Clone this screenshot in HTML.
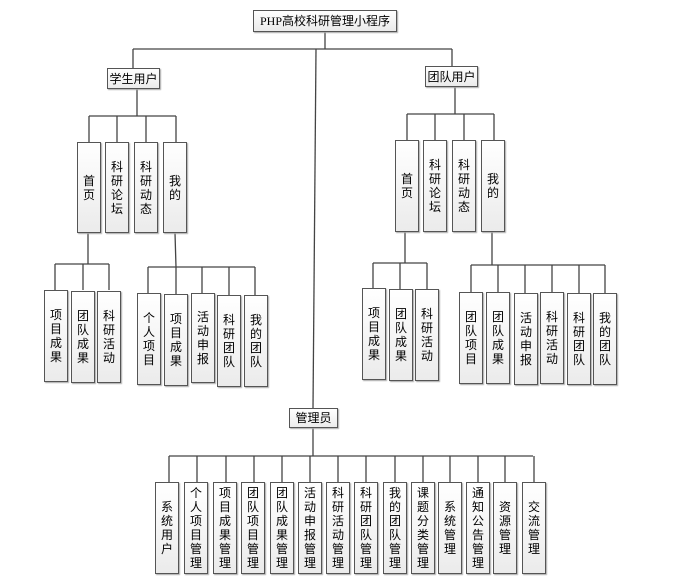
<!DOCTYPE html>
<html><head><meta charset="utf-8">
<style>
body{margin:0;width:691px;height:583px;background:#fff;position:relative;overflow:hidden;font-family:"Liberation Sans","Noto Sans CJK SC",sans-serif;}
svg{position:absolute;left:0;top:0}
.b{position:absolute;box-sizing:border-box;border:1.5px solid #555;background:linear-gradient(#fff,#ebebeb);box-shadow:1px 1px 1px #aaa;display:flex;align-items:center;justify-content:center;text-align:center;font-size:12px;color:#000;line-height:14px;}
.v{width:24px;}
</style></head><body>
<svg width="691" height="583">
<g stroke="#444" stroke-width="1.3" fill="none">
<path d="M325 31V49M133 49H452M133 49V68M452 49V66"/>
<path d="M316 49L313 408"/>
<path d="M137 88V116M89 116H176M89 116V142M117 116V142M146 116V142M176 116V142"/>
<path d="M88 233V264M55 264H109M55 264V290M83 264V290M109 264V290"/>
<path d="M175 233L176 267M148 267H255M148 267V293M176 267V294M202 267V293M229 267V295M255 267V295"/>
<path d="M455 87V114M407 114H494M407 114V140M435 114V140M464 114V140M494 114V140"/>
<path d="M405 232V263M373 263H427M373 263V288M400 263V289M427 263V289"/>
<path d="M492 232V265M471 265H605M471 265V292M498 265V292M525 265V293M552 265V292M579 265V293M605 265V293"/>
<path d="M313 428V456M169 456H533"/>
<path d="M169 456V482M197 456V482M226 456V482M254 456V482M282 456V482M310 456V482M338 456V482M366 456V482M395 456V482M423 456V482M450 456V482M478 456V482M505 456V482M534 456V482"/>
</g></svg>
<div class="b" style="left:253px;top:10px;width:144px;height:22px;font-family:'Liberation Serif','Noto Sans CJK SC',serif;font-size:12px">PHP高校科研管理小程序</div>
<div class="b" style="left:107px;top:68px;width:53px;height:21px">学生用户</div>
<div class="b" style="left:425px;top:66px;width:53px;height:21px">团队用户</div>
<div class="b" style="left:289px;top:408px;width:49px;height:20px">管理员</div>

<div class="b v" style="left:77px;top:142px;height:91px">首<br>页</div>
<div class="b v" style="left:105px;top:142px;height:91px">科<br>研<br>论<br>坛</div>
<div class="b v" style="left:134px;top:142px;height:91px">科<br>研<br>动<br>态</div>
<div class="b v" style="left:163px;top:142px;height:91px">我<br>的</div>

<div class="b v" style="left:395px;top:140px;height:92px">首<br>页</div>
<div class="b v" style="left:423px;top:140px;height:92px">科<br>研<br>论<br>坛</div>
<div class="b v" style="left:452px;top:140px;height:92px">科<br>研<br>动<br>态</div>
<div class="b v" style="left:481px;top:140px;height:92px">我<br>的</div>

<div class="b v" style="left:44px;top:290px;height:92px">项<br>目<br>成<br>果</div>
<div class="b v" style="left:71px;top:291px;height:92px">团<br>队<br>成<br>果</div>
<div class="b v" style="left:97px;top:291px;height:92px">科<br>研<br>活<br>动</div>

<div class="b v" style="left:137px;top:293px;height:92px">个<br>人<br>项<br>目</div>
<div class="b v" style="left:164px;top:294px;height:92px">项<br>目<br>成<br>果</div>
<div class="b v" style="left:191px;top:293px;height:90px">活<br>动<br>申<br>报</div>
<div class="b v" style="left:217px;top:295px;height:92px">科<br>研<br>团<br>队</div>
<div class="b v" style="left:244px;top:295px;height:92px">我<br>的<br>团<br>队</div>

<div class="b v" style="left:362px;top:288px;height:92px">项<br>目<br>成<br>果</div>
<div class="b v" style="left:389px;top:289px;height:92px">团<br>队<br>成<br>果</div>
<div class="b v" style="left:415px;top:289px;height:92px">科<br>研<br>活<br>动</div>

<div class="b v" style="left:459px;top:292px;height:92px">团<br>队<br>项<br>目</div>
<div class="b v" style="left:486px;top:292px;height:92px">团<br>队<br>成<br>果</div>
<div class="b v" style="left:514px;top:293px;height:92px">活<br>动<br>申<br>报</div>
<div class="b v" style="left:540px;top:292px;height:92px">科<br>研<br>活<br>动</div>
<div class="b v" style="left:567px;top:293px;height:92px">科<br>研<br>团<br>队</div>
<div class="b v" style="left:593px;top:293px;height:92px">我<br>的<br>团<br>队</div>

<div class="b v" style="left:155px;top:482px;height:92px">系<br>统<br>用<br>户</div>
<div class="b v" style="left:184px;top:482px;height:92px">个<br>人<br>项<br>目<br>管<br>理</div>
<div class="b v" style="left:213px;top:482px;height:92px">项<br>目<br>成<br>果<br>管<br>理</div>
<div class="b v" style="left:241px;top:482px;height:92px">团<br>队<br>项<br>目<br>管<br>理</div>
<div class="b v" style="left:270px;top:482px;height:92px">团<br>队<br>成<br>果<br>管<br>理</div>
<div class="b v" style="left:298px;top:482px;height:92px">活<br>动<br>申<br>报<br>管<br>理</div>
<div class="b v" style="left:326px;top:482px;height:92px">科<br>研<br>活<br>动<br>管<br>理</div>
<div class="b v" style="left:354px;top:482px;height:92px">科<br>研<br>团<br>队<br>管<br>理</div>
<div class="b v" style="left:383px;top:482px;height:92px">我<br>的<br>团<br>队<br>管<br>理</div>
<div class="b v" style="left:411px;top:482px;height:92px">课<br>题<br>分<br>类<br>管<br>理</div>
<div class="b v" style="left:438px;top:482px;height:92px">系<br>统<br>管<br>理</div>
<div class="b v" style="left:466px;top:482px;height:92px">通<br>知<br>公<br>告<br>管<br>理</div>
<div class="b v" style="left:493px;top:482px;height:92px">资<br>源<br>管<br>理</div>
<div class="b v" style="left:522px;top:482px;height:92px">交<br>流<br>管<br>理</div>
</body></html>
